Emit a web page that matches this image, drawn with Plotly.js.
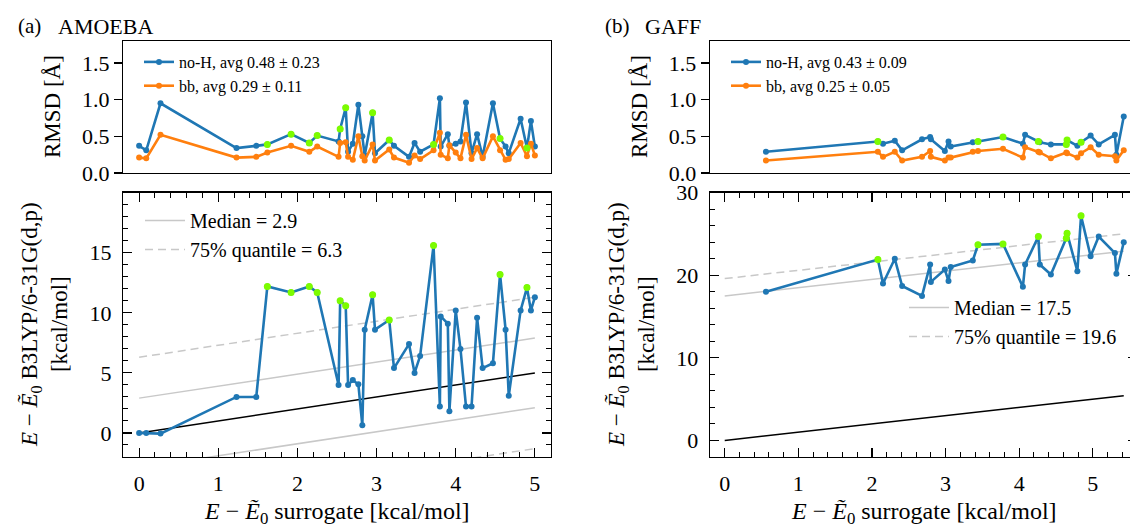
<!DOCTYPE html>
<html><head><meta charset="utf-8">
<script src="https://cdn.plot.ly/plotly-3.0.1.min.js"></script>
<style>html,body{margin:0;padding:0;overflow:hidden;background:#fff;width:1130px;height:529px}#plot{width:1140px;height:529px}</style>
</head><body><div id="plot"></div>
<script>
// ---------- (a) AMOEBA ----------
const xA    = [0, 0.09, 0.27, 1.23, 1.48, 1.62, 1.92, 2.15, 2.25, 2.52, 2.54, 2.61, 2.64, 2.70, 2.77, 2.82, 2.85, 2.95, 2.98, 3.16, 3.22, 3.41, 3.48, 3.55, 3.72, 3.80, 3.81, 3.90, 3.92, 4.00, 4.06, 4.13, 4.20, 4.27, 4.34, 4.47, 4.56, 4.63, 4.67, 4.82, 4.90, 4.95, 5.00];
const eA    = [0, 0, -0.05, 3.0, 3.0, 12.2, 11.7, 12.2, 11.7, 4.0, 11.0, 10.6, 4.0, 4.4, 4.05, 0.64, 8.6, 11.5, 8.6, 9.4, 5.4, 7.4, 5.0, 6.4, 15.6, 2.2, 9.7, 9.1, 1.8, 10.2, 7.0, 2.2, 2.2, 9.6, 5.4, 5.8, 13.2, 8.6, 3.1, 10.2, 12.1, 10.2, 11.3];
const noHA  = [0.37, 0.31, 0.95, 0.34, 0.37, 0.39, 0.53, 0.41, 0.51, 0.43, 0.60, 0.89, 0.29, 0.40, 0.93, 0.50, 0.24, 0.82, 0.27, 0.45, 0.37, 0.22, 0.41, 0.29, 0.39, 1.02, 0.36, 0.53, 0.37, 0.40, 0.43, 0.96, 0.27, 0.53, 0.22, 0.95, 0.47, 0.36, 0.27, 0.74, 0.34, 0.71, 0.36];
const bbA   = [0.21, 0.20, 0.52, 0.21, 0.22, 0.28, 0.37, 0.29, 0.36, 0.22, 0.41, 0.42, 0.22, 0.18, 0.50, 0.23, 0.17, 0.39, 0.17, 0.32, 0.21, 0.14, 0.24, 0.19, 0.31, 0.55, 0.25, 0.20, 0.38, 0.28, 0.20, 0.52, 0.19, 0.34, 0.20, 0.50, 0.31, 0.18, 0.19, 0.41, 0.23, 0.40, 0.24];
const hiA   = [5, 6, 7, 8, 10, 11, 17, 19, 24, 36, 40];
const medianA = 2.9, q75A = 6.3;
const legendA = ['no-H, avg 0.48 ± 0.23', 'bb, avg 0.29 ± 0.11'];
const yTicksA = [0, 5, 10, 15];

// ---------- (b) GAFF ----------
const xB    = [0.56, 2.08, 2.15, 2.31, 2.41, 2.68, 2.79, 2.80, 2.99, 3.04, 3.07, 3.37, 3.44, 3.78, 4.05, 4.08, 4.26, 4.28, 4.43, 4.64, 4.65, 4.79, 4.84, 4.97, 5.08, 5.30, 5.32, 5.42];
const eB    = [18.0, 21.9, 19.0, 22.0, 18.7, 17.5, 21.3, 19.2, 20.7, 19.3, 21.0, 21.8, 23.7, 23.8, 18.6, 21.3, 24.7, 21.3, 20.1, 24.5, 25.1, 20.5, 27.2, 22.3, 24.7, 22.7, 20.2, 24.0];
const noHB  = [0.29, 0.43, 0.40, 0.44, 0.31, 0.46, 0.49, 0.46, 0.30, 0.43, 0.36, 0.42, 0.43, 0.49, 0.40, 0.52, 0.43, 0.42, 0.39, 0.39, 0.45, 0.37, 0.42, 0.51, 0.39, 0.52, 0.25, 0.77];
const bbB   = [0.17, 0.29, 0.22, 0.29, 0.17, 0.22, 0.30, 0.22, 0.17, 0.21, 0.21, 0.29, 0.30, 0.33, 0.21, 0.35, 0.29, 0.28, 0.20, 0.28, 0.27, 0.21, 0.27, 0.35, 0.25, 0.23, 0.17, 0.31];
const hiB   = [1, 12, 13, 16, 19, 20, 22];
const medianB = 17.5, q75B = 19.6;
const legendB = ['no-H, avg 0.43 ± 0.09', 'bb, avg 0.25 ± 0.05'];
const yTicksB = [0, 10, 20, 30];

const rmsdTicks = [0, 0.5, 1.0, 1.5];
const xTicks = [0, 1, 2, 3, 4, 5];

const SERIF = '"Liberation Serif", "Times New Roman", serif';
const BLUE = '#1f77b4', ORANGE = '#ff7f0e', GREEN = '#7cfc00', GRAY = '#c8c8c8';
const W = 1140, H = 529;
const fx = p => p / W, fy = p => 1 - p / H;

function panelTraces(xs, es, nh, bb, hi, med, q75, sfx, legs, names) {
  const xa = 'x' + sfx.bot, ya = 'y' + sfx.bot, xt = 'x' + sfx.top, yt = 'y' + sfx.top;
  const x0 = 0, x1 = Math.max(...xs);
  const T = [];
  const ref = (c, dash, name, leg) => ({
    x: [x0, x1], y: [x0 + c, x1 + c], xaxis: xa, yaxis: ya, mode: 'lines',
    line: {color: GRAY, width: 1.5, dash: dash}, name: name || '', showlegend: !!leg,
    legend: leg || legs.top, hoverinfo: 'skip'
  });
  T.push(ref(med, 'solid', 'Median = ' + med, legs.med));
  T.push(ref(q75, '8px,5px', '75% quantile = ' + q75, legs.q75));
  T.push(ref(-med, 'solid', null, null));
  T.push(ref(-q75, '8px,5px', null, null));
  T.push({x: [x0, x1], y: [x0, x1], xaxis: xa, yaxis: ya, mode: 'lines',
    line: {color: 'black', width: 1.5}, showlegend: false, hoverinfo: 'skip'});
  T.push({x: xs, y: es, xaxis: xa, yaxis: ya, mode: 'lines+markers',
    line: {color: BLUE, width: 2.6}, marker: {color: BLUE, size: 6}, showlegend: false});
  T.push({x: hi.map(i => xs[i]), y: hi.map(i => es[i]), xaxis: xa, yaxis: ya, mode: 'markers',
    marker: {color: GREEN, size: 7}, showlegend: false});
  T.push({x: xs, y: nh, xaxis: xt, yaxis: yt, mode: 'lines+markers', name: names[0],
    line: {color: BLUE, width: 2.6}, marker: {color: BLUE, size: 6}, legend: legs.top});
  T.push({x: xs, y: bb, xaxis: xt, yaxis: yt, mode: 'lines+markers', name: names[1],
    line: {color: ORANGE, width: 2.6}, marker: {color: ORANGE, size: 6}, legend: legs.top});
  T.push({x: hi.map(i => xs[i]), y: hi.map(i => nh[i]), xaxis: xt, yaxis: yt, mode: 'markers',
    marker: {color: GREEN, size: 7}, showlegend: false});
  return T;
}

const data = [].concat(
  panelTraces(xA, eA, noHA, bbA, hiA, medianA, q75A, {bot: '', top: '2'}, {top: 'legend', med: 'legend2', q75: 'legend5'}, legendA),
  panelTraces(xB, eB, noHB, bbB, hiB, medianB, q75B, {bot: '3', top: '4'}, {top: 'legend3', med: 'legend4', q75: 'legend6'}, legendB)
);

const tickFont = () => ({family: SERIF, size: 22, color: 'black'});
const frameAx = () => ({showline: true, linecolor: 'black', linewidth: 1.3, mirror: 'allticks',
  ticks: 'inside', ticklen: 9, tickwidth: 1.2, tickcolor: 'black', showgrid: false,
  zeroline: false, tickfont: tickFont(), ticklabelstandoff: 6});
const minor = (d) => ({ticks: 'inside', ticklen: 5, tickwidth: 1, tickcolor: 'black', dtick: d, tick0: 0, showgrid: false});

const domLx = [fx(123.3), fx(550.7)], domRx = [fx(710), fx(1137)];
const domBot = [fy(457), fy(192.7)], domTop = [fy(173), fy(41)];

const topY = (anchor) => ({domain: domTop, anchor: anchor, range: [0, 1.8], tickmode: 'array',
  tickvals: rmsdTicks, ticktext: rmsdTicks.map(v => v.toFixed(1)),
  showline: true, linecolor: 'black', linewidth: 1.3, mirror: true,
  ticks: 'outside', ticklen: 8, tickwidth: 1.2, tickcolor: 'black', showgrid: false, zeroline: false,
  tickfont: tickFont()});
const rightTicks = (over, anchor) => ({overlaying: over, anchor: anchor, side: 'right', range: [0, 1.8],
  tickmode: 'array', tickvals: rmsdTicks, ticks: 'inside', ticklen: 8, tickwidth: 1.2, tickcolor: 'black',
  showticklabels: false, showline: false, showgrid: false, zeroline: false});
const topX = (anchor, match, dom) => ({domain: dom, anchor: anchor, matches: match, showticklabels: false,
  ticks: '', showline: true, linecolor: 'black', linewidth: 1.3, mirror: true, showgrid: false, zeroline: false});

const legBase = () => ({bgcolor: 'rgba(0,0,0,0)', borderwidth: 0, xanchor: 'left', yanchor: 'top',
  font: {family: SERIF, size: 16, color: 'black'}, itemwidth: 30, tracegroupgap: 0});
const legBig = () => Object.assign(legBase(), {font: {family: SERIF, size: 20, color: 'black'}, itemwidth: 40});

const layout = {
  width: W, height: H, margin: {l: 0, r: 0, t: 0, b: 0},
  paper_bgcolor: 'white', plot_bgcolor: 'white', showlegend: true,
  xaxis:  Object.assign(frameAx(), {domain: domLx, anchor: 'y', range: [-0.2, 5.2], tickmode: 'array', tickvals: xTicks, minor: minor(0.2)}),
  yaxis:  Object.assign(frameAx(), {domain: domBot, anchor: 'x', range: [-2, 20], tickmode: 'array', tickvals: yTicksA, minor: minor(1)}),
  xaxis2: topX('y2', 'x', domLx),
  yaxis2: topY('x2'),
  xaxis3: Object.assign(frameAx(), {domain: domRx, anchor: 'y3', range: [-0.2, 5.6], tickmode: 'array', tickvals: xTicks, minor: minor(0.2)}),
  yaxis3: Object.assign(frameAx(), {domain: domBot, anchor: 'x3', range: [-2, 30], tickmode: 'array', tickvals: yTicksB, minor: minor(2)}),
  xaxis4: topX('y4', 'x3', domRx),
  yaxis4: topY('x4'),
  yaxis5: rightTicks('y2', 'x2'),
  yaxis6: rightTicks('y4', 'x4'),
  legend:  Object.assign(legBase(), {x: fx(139), y: fy(45)}),
  legend2: Object.assign(legBig(), {x: fx(140), y: fy(201)}),
  legend5: Object.assign(legBig(), {x: fx(140), y: fy(230)}),
  legend3: Object.assign(legBase(), {x: fx(726), y: fy(45)}),
  legend4: Object.assign(legBig(), {x: fx(904), y: fy(288)}),
  legend6: Object.assign(legBig(), {x: fx(904), y: fy(317)}),
  annotations: [
    {text: '(a)', x: 16, y: 26, xanchor: 'left'},
    {text: 'AMOEBA', x: 56, y: 26, xanchor: 'left', size: 22},
    {text: '(b)', x: 603, y: 26, xanchor: 'left'},
    {text: 'GAFF', x: 643, y: 26, xanchor: 'left', size: 22},
    {text: 'RMSD [Å]', x: 53, y: 107, textangle: -90, size: 23},
    {text: 'RMSD [Å]', x: 640, y: 107, textangle: -90, size: 23},
    {text: '<i>E</i> − <i>Ẽ</i><sub>0</sub> B3LYP/6-31G(d,p)<br>[kcal/mol]', x: 44, y: 325, textangle: -90, size: 23},
    {text: '<i>E</i> − <i>Ẽ</i><sub>0</sub> B3LYP/6-31G(d,p)<br>[kcal/mol]', x: 631, y: 325, textangle: -90, size: 23},
    {text: '<i>E</i> − <i>Ẽ</i><sub>0</sub> surrogate [kcal/mol]', x: 337, y: 513, size: 24},
    {text: '<i>E</i> − <i>Ẽ</i><sub>0</sub> surrogate [kcal/mol]', x: 923.5, y: 513, size: 24}
  ].map(a => ({xref: 'paper', yref: 'paper', showarrow: false, text: a.text, x: fx(a.x), y: fy(a.y),
    xanchor: a.xanchor || 'center', yanchor: 'middle', textangle: a.textangle || 0,
    font: {family: SERIF, size: a.size || 21, color: 'black'}}))
};

Plotly.newPlot('plot', data, layout, {staticPlot: true, displayModeBar: false});
</script></body></html>
